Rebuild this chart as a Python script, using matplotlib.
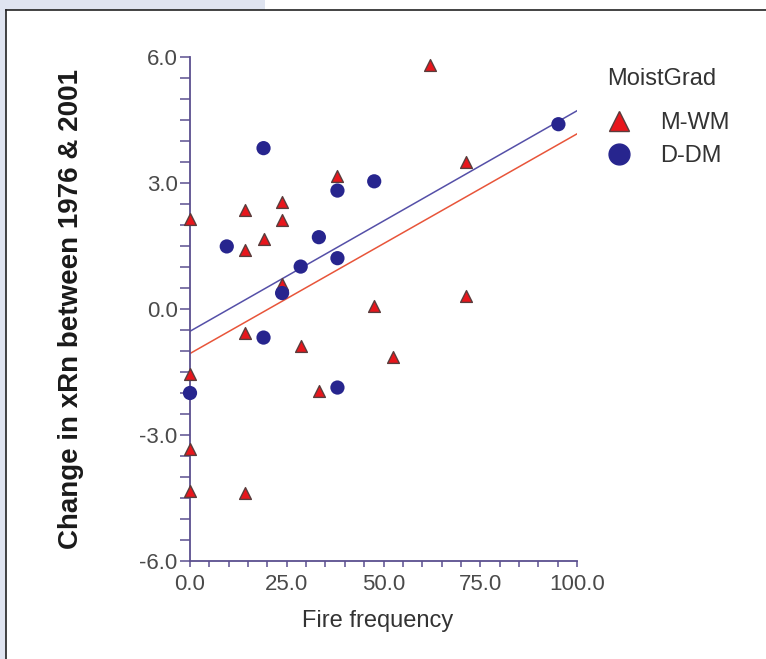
#!/usr/bin/env python3
import matplotlib
matplotlib.use("Agg")
import matplotlib.pyplot as plt
from matplotlib.lines import Line2D
from matplotlib.patches import Rectangle
import numpy as np

# M-WM sites (triangles)
mwm_x = [0, 0, 0, 0, 14.3, 14.3, 14.3, 14.3, 19.0, 23.8, 23.8, 23.8,
         28.6, 33.3, 38.1, 47.6, 52.4, 61.9, 71.4, 71.4]
mwm_y = [2.15, -1.54, -3.33, -4.34, 2.36, 1.41, -0.57, -4.38, 1.67, 2.55, 2.13, 0.6,
         -0.87, -1.95, 3.16, 0.06, -1.14, 5.82, 3.5, 0.32]

# D-DM sites (circles)
dm_x = [0, 9.5, 19.0, 19.0, 23.8, 28.6, 33.3, 38.1, 38.1, 38.1, 47.6, 95.2]
dm_y = [-2.0, 1.49, 3.83, -0.68, 0.38, 1.01, 1.71, 2.82, 1.21, -1.87, 3.04, 4.40]

# fitted lines (intercept, slope)
fit_mwm = (-1.06, 0.0523)
fit_dm = (-0.53, 0.0525)

RED = "#e8161c"
BLUE = "#27258e"
AXC = "#5b4f8f"
TXT = "#4a4a4a"
plt.rcParams["font.family"] = ["Liberation Sans", "DejaVu Sans"]

fig = plt.figure(figsize=(7.66, 6.59), dpi=100)
W, H = 766.0, 659.0

# page decoration: light blue strip + black frame
fig.add_artist(Rectangle((0, 1 - 10 / H), 265 / W, 10 / H, transform=fig.transFigure,
                         facecolor="#dfe4f0", edgecolor="none"))
fig.add_artist(Rectangle((0, 0), 6 / W, 1 - 10 / H, transform=fig.transFigure,
                         facecolor="#dfe4f0", edgecolor="none"))
fig.add_artist(Line2D([6 / W, 6 / W], [0, 1 - 10 / H], transform=fig.transFigure,
                      color="#222222", lw=1.2))
fig.add_artist(Line2D([6 / W, 1], [1 - 10 / H, 1 - 10 / H], transform=fig.transFigure,
                      color="#222222", lw=1.2))

ax = fig.add_axes([190 / W, 1 - 561 / H, 387 / W, 504 / H])

xs = np.array([0, 100])
ax.plot(xs, fit_dm[0] + fit_dm[1] * xs, color="#5550a8", lw=1.1, zorder=2)
ax.plot(xs, fit_mwm[0] + fit_mwm[1] * xs, color="#e8553a", lw=1.1, zorder=2)

ax.scatter(mwm_x, mwm_y, marker="^", s=72, color=RED, edgecolor="#5a3c3c",
           linewidth=1.0, zorder=3, clip_on=False)
ax.scatter(dm_x, dm_y, marker="o", s=105, color=BLUE, edgecolor="none",
           zorder=4, clip_on=False)

ax.set_xlim(0, 100)
ax.set_ylim(-6, 6)
ax.set_xticks([0, 25, 50, 75, 100])
ax.set_xticklabels(["0.0", "25.0", "50.0", "75.0", "100.0"])
ax.set_yticks([-6, -3, 0, 3, 6])
ax.set_yticklabels(["-6.0", "-3.0", "0.0", "3.0", "6.0"])
ax.set_xticks(np.arange(0, 101, 5), minor=True)
ax.set_yticks(np.arange(-6, 6.01, 0.5), minor=True)
for s in ["top", "right"]:
    ax.spines[s].set_visible(False)
for s in ["left", "bottom"]:
    ax.spines[s].set_color(AXC)
    ax.spines[s].set_linewidth(1.3)
ax.tick_params(which="both", direction="out", color=AXC, width=1.1)
ax.tick_params(axis="x", which="both", length=4.5)
ax.tick_params(axis="y", which="both", length=7)
ax.tick_params(axis="x", which="major", labelsize=16, labelcolor=TXT, pad=5)
ax.tick_params(axis="y", which="major", labelsize=16, labelcolor=TXT, pad=2)

ax.set_xlabel("Fire frequency", fontsize=17, color="#333333")
ax.xaxis.set_label_coords(0.486, -0.097)
ax.set_ylabel("Change in xRn between 1976 & 2001", fontsize=20, fontweight="bold",
              color="#1a1a1a")
ax.yaxis.set_label_coords(-0.274, 0.5)

# legend: title as plain text, entries below
fig.text(607 / W, 1 - 79 / H, "MoistGrad", fontsize=17, color="#333333",
         ha="left", va="center")
handles = [
    Line2D([], [], marker="^", linestyle="none", markersize=14, color=RED,
           markeredgecolor="#5a3c3c", markeredgewidth=1),
    Line2D([], [], marker="o", linestyle="none", markersize=15, color=BLUE),
]
leg = fig.legend(handles, ["M-WM", "D-DM"], loc="upper left",
                 bbox_to_anchor=(607 / W, 1 - 112 / H), frameon=False, fontsize=17,
                 handlelength=1.0, handletextpad=1.25, labelspacing=0.47,
                 borderpad=0, borderaxespad=0)
for t in leg.get_texts():
    t.set_color("#333333")

fig.savefig("out.png", dpi=100, facecolor="white")
